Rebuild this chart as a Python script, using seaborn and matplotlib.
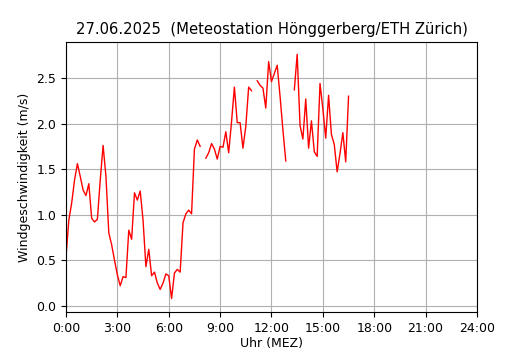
import numpy as np
import pandas as pd
import matplotlib
matplotlib.use("Agg")
import matplotlib.pyplot as plt
import seaborn as sns

# 10-minute values from 0:00 to 16:30 (NaN = missing measurement)
times = ["0:00", "0:10", "0:20", "0:30", "0:40", "0:50", "1:00", "1:10", "1:20", "1:30", "1:40", "1:50",
         "2:00", "2:10", "2:20", "2:30", "2:40", "2:50", "3:00", "3:10", "3:20", "3:30", "3:40", "3:50",
         "4:00", "4:10", "4:20", "4:30", "4:40", "4:50", "5:00", "5:10", "5:20", "5:30", "5:40", "5:50",
         "6:00", "6:10", "6:20", "6:30", "6:40", "6:50", "7:00", "7:10", "7:20", "7:30", "7:40", "7:50",
         "8:00", "8:10", "8:20", "8:30", "8:40", "8:50", "9:00", "9:10", "9:20", "9:30", "9:40", "9:50",
         "10:00", "10:10", "10:20", "10:30", "10:40", "10:50", "11:00", "11:10", "11:20", "11:30", "11:40", "11:50",
         "12:00", "12:10", "12:20", "12:30", "12:40", "12:50", "13:00", "13:10", "13:20", "13:30", "13:40", "13:50",
         "14:00", "14:10", "14:20", "14:30", "14:40", "14:50", "15:00", "15:10", "15:20", "15:30", "15:40", "15:50",
         "16:00", "16:10", "16:20", "16:30"]
wind = [0.54, 0.94, 1.13, 1.38, 1.56, 1.42, 1.27, 1.21, 1.34, 0.96, 0.92, 0.95,
        1.38, 1.76, 1.42, 0.80, 0.67, 0.50, 0.34, 0.22, 0.32, 0.31, 0.83, 0.73,
        1.24, 1.16, 1.26, 0.94, 0.43, 0.62, 0.33, 0.37, 0.25, 0.18, 0.25, 0.35,
        0.33, 0.08, 0.36, 0.40, 0.37, 0.91, 1.01, 1.05, 1.01, 1.72, 1.82, 1.75,
        np.nan, 1.62, 1.68, 1.78, 1.72, 1.61, 1.75, 1.74, 1.91, 1.68, 2.02, 2.40,
        2.01, 2.01, 1.73, 1.97, 2.40, 2.36, np.nan, 2.47, 2.42, 2.39, 2.17, 2.68,
        2.46, 2.55, 2.64, 2.30, 1.93, 1.59, np.nan, np.nan, 2.37, 2.76, 1.98, 1.83,
        2.27, 1.73, 2.03, 1.69, 1.64, 2.44, 2.16, 1.84, 2.31, 1.88, 1.77, 1.47,
        1.67, 1.90, 1.58, 2.30]

tick_hours = [0, 3, 6, 9, 12, 15, 18, 21, 24]
tick_labels = ["0:00", "3:00", "6:00", "9:00", "12:00", "15:00", "18:00", "21:00", "24:00"]

df = pd.DataFrame({"time": times, "wind": wind})
hm = df["time"].str.split(":", expand=True).astype(int)
df["hours"] = hm[0] + hm[1] / 60
# split into segments at gaps so the line breaks there
df["segment"] = df["wind"].isna().cumsum()
df = df.dropna(subset=["wind"])

fig = plt.figure(figsize=(5.3, 3.5), dpi=100)
ax = fig.add_axes([0.1245, 0.108, 0.7755, 0.772])

sns.lineplot(data=df, x="hours", y="wind", units="segment", estimator=None,
             color="red", linewidth=1, ax=ax)

ax.set_xlim(0, 24)
ax.set_ylim(-0.07, 2.895)
ax.set_xticks(tick_hours)
ax.set_xticklabels(tick_labels)
ax.grid(True, color="#b0b0b0", linewidth=0.8)
ax.set_title("27.06.2025  (Meteostation Hönggerberg/ETH Zürich)", fontsize=10.6)
ax.set_xlabel("Uhr (MEZ)", fontsize=9, labelpad=1.5)
ax.set_ylabel("Windgeschwindigkeit (m/s)", fontsize=9)
ax.tick_params(labelsize=9)

fig.savefig("out.png", dpi=100)
